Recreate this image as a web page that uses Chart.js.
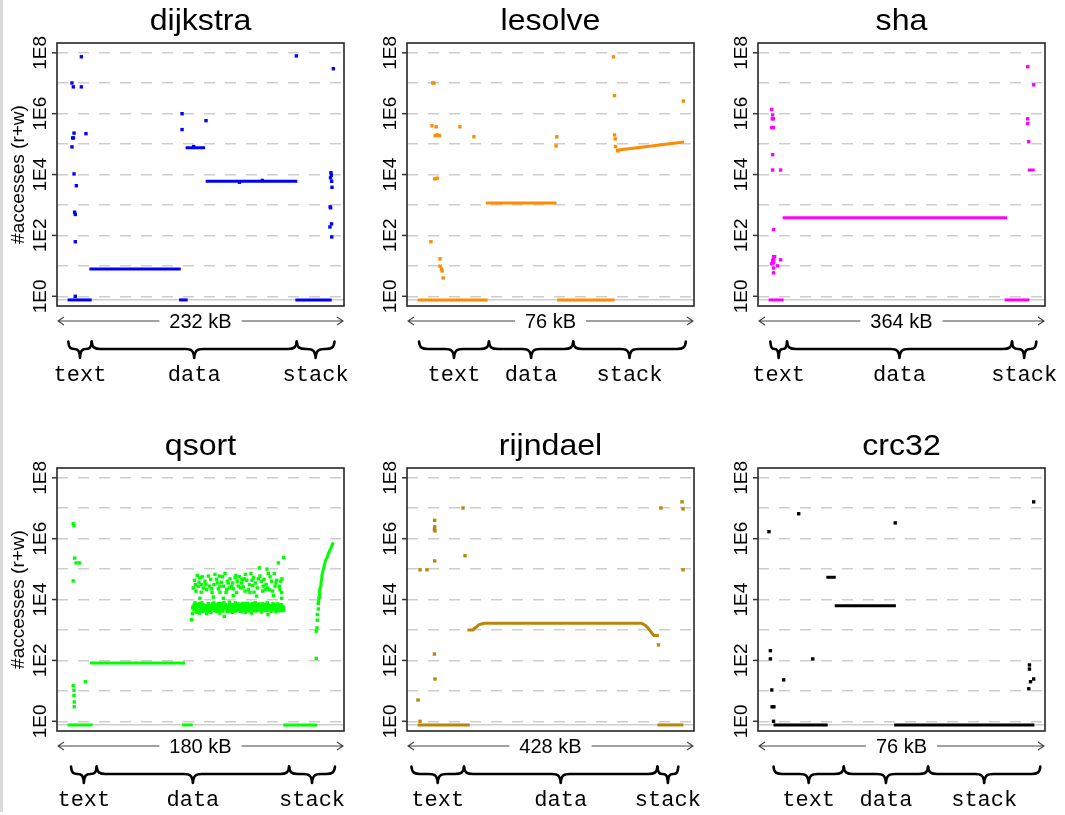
<!DOCTYPE html>
<html><head><meta charset="utf-8">
<script src="https://cdn.jsdelivr.net/npm/chart.js@4/dist/chart.umd.min.js"></script>
<style>
html,body{margin:0;padding:0;background:#fff;}
#wrap{position:relative;width:1065px;height:815px;overflow:hidden;background:#fff;}
#edge{position:absolute;left:0;top:0;width:3px;height:812px;background:#dadada;}
canvas{position:absolute;}
</style></head><body><div id="wrap"><div id="edge"></div></div>
<script>
// ---------- shared axis values ----------
const NOT_ACCESSED = 0.76;            // level where never-accessed words are drawn
const yAxisMin = 0.48, yAxisMax = 2.1e8;
const gridValues = [NOT_ACCESSED, 1, 10, 1e2, 1e3, 1e4, 1e5, 1e6, 1e7, 1e8];
const tickValues = [1, 1e2, 1e4, 1e6, 1e8];
const tickLabels = ['1E0', '1E2', '1E4', '1E6', '1E8'];
const regionNames = ['text', 'data', 'stack'];
const yTitle = '#accesses (r+w)';

// ---------- dijkstra ----------
const dijkstraSizeKB = 232;
const dijkstraRegions = [0.6, 21, 200, 233];
const dijkstraRuns = [[0, 21, NOT_ACCESSED], [97.3, 104.8, NOT_ACCESSED], [198.8, 230.5, NOT_ACCESSED],
  [19, 98.7, 7.9], [103, 120, 7.6e4], [120.5, 200.5, 6.0e3]];
const dijkstraLines = [];
const dijkstraPoints = [[6.7, 1], [3.8, 1.02e7], [5.0, 7.6e6], [12.0, 7.4e7], [12.0, 7.6e6], [5.6, 2.3e5],
  [4.4, 1.6e5], [5.0, 1.6e5], [16.0, 2.2e5], [3.8, 8.1e4], [5.6, 1.05e4], [7.6, 4.3e3], [6.1, 5.8e2],
  [6.7, 4.9e2], [6.7, 62], [99.9, 1e6], [99.9, 3.0e5], [120.8, 5.9e5], [199.7, 7.9e7], [232, 3.0e7],
  [229.9, 1.15e4], [230.2, 9.5e3], [229.5, 7.8e3], [230.5, 6.0e3], [230.8, 3.8e3], [229.2, 8.7e2],
  [229.6, 8.1e2], [230.4, 2.4e2], [229.0, 1.9e2], [230.6, 89], [110, 8.3e4], [150, 5.6e3], [170, 6.4e3]];

// ---------- lesolve ----------
const lesolveSizeKB = 76;
const lesolveRegions = [0.4, 20.4, 44.5, 76.7];
const lesolveRuns = [[0, 20, NOT_ACCESSED], [39.9, 56.3, NOT_ACCESSED], [19.5, 39.7, 1.17e3]];
const lesolveLines = [[[56.9, 6.3e4], [76.2, 1.17e5]]];
const lesolvePoints = [[4.3, 1.02e7], [4.7, 1.02e7], [4.1, 4.0e5], [5.3, 3.7e5], [5.0, 1.9e5], [5.6, 2.0e5],
  [6.2, 1.9e5], [4.9, 7.2e3], [5.6, 7.6e3], [3.8, 62], [6.4, 17], [6.4, 9.8], [6.8, 7.9], [7.0, 6.8],
  [7.3, 4.0], [12.1, 3.7e5], [16.1, 1.74e5], [39.8, 1.74e5], [39.6, 8.7e4], [56.0, 7.4e7], [56.3, 3.9e6],
  [76.0, 2.6e6], [56.6, 8.3e4], [56.5, 1.48e5], [56.3, 2.0e5], [57.2, 6.0e4]];

// ---------- sha ----------
const shaSizeKB = 364;
const shaRegions = [2.3, 25.2, 333.4, 366.7];
const shaRuns = [[0, 20.5, NOT_ACCESSED], [323.3, 357.2, NOT_ACCESSED], [19.2, 326.6, 380], [354.9, 364.5, 1.41e4]];
const shaLines = [];
const shaPoints = [[4.1, 1.38e6], [5.5, 9.1e5], [5.0, 6.8e5], [6.4, 6.8e5], [4.1, 3.5e5], [6.4, 3.5e5],
  [5.5, 4.5e4], [5.5, 1.41e4], [16.4, 1.41e4], [6.8, 155], [6.8, 20], [8.2, 20], [5.5, 15], [6.8, 16.6],
  [4.1, 11.7], [6.8, 12.6], [16.4, 15.8], [12.3, 10], [6.8, 8.5], [6.8, 5.9], [354.9, 3.5e7],
  [363.1, 8.9e6], [354.9, 6.8e5], [354.9, 4.7e5], [356.2, 1.2e5]];

// ---------- qsort ----------
const qsortSizeKB = 180;
const qsortRegions = [2.3, 19.7, 150, 181.1];
const qsortRuns = [[0, 17, NOT_ACCESSED], [77.5, 84.7, NOT_ACCESSED], [146.1, 169.1, NOT_ACCESSED], [15.2, 79.5, 83]];
const qsortLines = [[[169.8, 7.4e3], [170.3, 1.15e4], [170.5, 1.48e4], [170.8, 2.1e4], [171.4, 2.75e4],
  [171.6, 3.5e4], [172.1, 4.9e4], [172.3, 6.6e4], [173.2, 9.8e4], [173.9, 1.32e5], [174.5, 1.82e5],
  [175.5, 2.3e5], [176.4, 3.0e5], [177.3, 3.9e5], [178.4, 5.0e5], [179.6, 6.9e5], [180.0, 7.6e5]]];
const qsortTextPoints = [[3.8, 3.1e6], [4.3, 2.7e6], [4.8, 2.3e5], [5.7, 1.6e5], [7.9, 1.6e5], [3.8, 4.1e4],
  [3.8, 14.8], [4.3, 10.5], [4.3, 7.1], [4.5, 4.3], [4.5, 3.0], [12.0, 20]];
const qsortStackPoints = [[168.4, 117], [168.4, 9.1e2], [168.9, 1.17e3], [169.1, 2.1e3], [169.1, 3.2e3],
  [169.8, 4.9e3], [169.8, 7.4e3], [170.3, 1.15e4]];
const qsortHeapLow = [[84.0, 2.2e3], [84.5, 3.45e3], [85.1, 6.0e3], [85.6, 4.7e3], [86.3, 7.8e3], [86.9, 4.1e3],
  [87.4, 5.3e3], [88.1, 6.8e3], [88.7, 4.4e3], [89.2, 3.6e3], [89.6, 6.0e3], [90.3, 4.9e3], [91.0, 7.8e3],
  [91.5, 4.1e3], [92.1, 5.3e3], [92.8, 6.3e3], [93.5, 4.4e3], [94.2, 3.45e3], [94.6, 6.0e3], [95.3, 7.4e3],
  [96.0, 4.7e3], [96.4, 5.3e3], [97.1, 3.8e3], [97.8, 6.3e3], [98.5, 4.9e3], [99.1, 7.8e3], [99.6, 4.4e3],
  [100.3, 5.7e3], [100.9, 4.1e3], [101.6, 6.7e3], [102.3, 5.0e3], [103.0, 3.6e3], [103.4, 6.0e3],
  [104.1, 7.4e3], [104.8, 4.6e3], [105.5, 5.6e3], [106.1, 2.8e3], [106.8, 6.8e3], [107.5, 4.9e3],
  [108.2, 4.0e3], [108.8, 6.2e3], [109.5, 8.2e3], [110.2, 4.7e3], [110.9, 5.7e3], [111.5, 3.8e3],
  [112.2, 6.8e3], [112.9, 5.0e3], [113.6, 7.8e3], [114.3, 4.3e3], [114.9, 6.0e3], [115.6, 4.9e3],
  [116.3, 6.7e3], [117.0, 4.1e3], [117.6, 5.6e3], [118.3, 7.4e3], [119.0, 4.7e3], [119.7, 6.0e3],
  [120.4, 3.8e3], [121.0, 5.3e3], [121.7, 7.4e3], [122.4, 4.4e3], [123.1, 6.3e3], [123.7, 5.0e3],
  [124.4, 3.6e3], [125.1, 6.8e3], [125.8, 4.8e3], [126.5, 5.9e3], [127.1, 7.8e3], [127.8, 4.2e3],
  [128.5, 5.5e3], [129.2, 6.7e3], [129.8, 4.6e3], [130.5, 6.0e3], [131.2, 3.9e3], [131.9, 7.2e3],
  [132.5, 5.2e3], [133.2, 6.2e3], [133.9, 4.4e3], [134.6, 5.7e3], [135.3, 7.8e3], [135.7, 3.2e3],
  [136.4, 4.9e3], [137.1, 6.3e3], [137.7, 4.1e3], [138.4, 5.6e3], [139.1, 7.4e3], [139.8, 4.7e3],
  [140.5, 6.0e3], [141.1, 4.0e3], [141.8, 6.7e3], [142.5, 5.0e3], [143.2, 5.9e3], [143.8, 4.3e3],
  [144.5, 6.8e3], [145.2, 4.9e3], [145.9, 5.7e3], [146.3, 4.4e3],
  [84.7, 5.3e3], [85.8, 6.8e3], [86.7, 5.6e3], [87.6, 3.8e3], [88.3, 6.0e3], [89.4, 7.4e3], [90.1, 4.2e3],
  [90.8, 5.6e3], [91.7, 6.7e3], [92.6, 4.7e3], [93.3, 6.0e3], [93.9, 5.0e3], [95.1, 4.2e3], [95.7, 6.5e3],
  [96.6, 4.4e3], [97.5, 5.2e3], [98.2, 7.2e3], [98.9, 5.6e3], [100.0, 6.7e3], [100.7, 5.2e3],
  [101.4, 4.4e3], [102.1, 7.4e3], [102.7, 6.0e3], [103.9, 4.9e3], [104.5, 6.7e3], [105.2, 4.2e3],
  [105.9, 7.8e3], [106.6, 5.2e3], [107.9, 6.0e3], [108.6, 4.4e3], [109.3, 5.6e3], [110.0, 6.8e3],
  [110.6, 4.2e3], [111.3, 6.3e3], [112.0, 4.8e3], [112.7, 6.0e3], [113.4, 4.2e3], [114.0, 6.5e3],
  [114.7, 4.9e3], [115.4, 7.2e3], [116.1, 4.4e3], [116.7, 6.0e3], [117.4, 4.9e3], [118.1, 4.2e3],
  [118.8, 6.5e3], [119.5, 5.2e3], [120.1, 7.4e3], [120.8, 4.4e3], [121.5, 6.0e3], [122.2, 5.6e3],
  [122.8, 4.2e3], [123.5, 7.0e3], [124.2, 5.3e3], [124.9, 6.0e3], [125.5, 7.4e3], [126.2, 4.4e3],
  [126.9, 5.6e3], [127.6, 6.5e3], [128.3, 4.7e3], [128.9, 6.0e3], [129.6, 7.2e3], [130.3, 4.9e3],
  [131.0, 5.6e3], [131.6, 4.4e3], [132.3, 6.3e3], [133.0, 4.7e3], [133.7, 7.0e3], [134.4, 5.3e3],
  [135.0, 4.4e3], [136.2, 6.5e3], [136.8, 5.3e3], [137.5, 6.0e3], [138.2, 4.6e3], [138.9, 5.5e3],
  [139.5, 6.7e3], [140.2, 4.9e3], [140.9, 6.0e3], [141.6, 4.7e3], [142.3, 7.2e3], [142.9, 4.4e3],
  [143.6, 6.0e3], [144.3, 5.2e3], [145.0, 6.5e3], [145.6, 4.4e3], [146.1, 5.5e3]];
const qsortHeapHigh = [[87.8, 6.2e4], [91.2, 5.6e4], [95.3, 5.9e4], [99.8, 6.7e4], [102.7, 5.9e4], [106.6, 7.2e4],
  [110.0, 4.8e4], [113.4, 5.2e4], [116.3, 5.6e4], [120.4, 6.7e4], [124.2, 7.2e4], [125.8, 5.2e4],
  [129.8, 1.1e5], [130.3, 5.9e4], [135.0, 1.0e5], [135.9, 7.2e4], [140.0, 7.2e4], [142.7, 1.6e5],
  [146.3, 2.4e5], [86.0, 4.3e4], [89.0, 3.7e4], [93.0, 4.0e4], [96.9, 4.6e4], [100.9, 4.6e4], [104.1, 3.7e4],
  [108.2, 4.0e4], [111.8, 3.5e4], [114.9, 4.0e4], [117.9, 3.5e4], [121.3, 4.3e4], [127.1, 3.5e4],
  [131.2, 4.0e4], [134.4, 3.1e4], [138.2, 4.0e4], [141.6, 4.3e4], [144.3, 4.0e4], [85.1, 2.4e4],
  [88.5, 2.75e4], [91.9, 2.4e4], [96.0, 2.75e4], [99.1, 3.1e4], [102.1, 2.25e4], [105.5, 2.75e4],
  [109.5, 2.4e4], [112.2, 2.25e4], [115.6, 2.75e4], [119.0, 2.6e4], [122.4, 2.1e4], [125.3, 2.9e4],
  [128.5, 2.4e4], [132.5, 2.75e4], [136.6, 2.1e4], [140.5, 2.75e4], [143.8, 2.1e4], [86.9, 1.9e4],
  [90.5, 1.75e4], [94.2, 2.1e4], [97.8, 1.7e4], [103.2, 1.75e4], [107.3, 1.7e4], [114.5, 1.7e4],
  [120.1, 1.9e4], [126.2, 1.75e4], [132.1, 1.9e4], [138.9, 1.9e4], [145.0, 1.7e4], [98.7, 1.2e4],
  [112.2, 1.35e4], [128.0, 1.3e4], [139.3, 1.35e4], [89.6, 1.1e4], [105.5, 1.1e4], [145.0, 1.1e4],
  [89.6, 5.2e4], [93.7, 3.1e4], [97.5, 2.25e4], [101.4, 3.5e4], [105.0, 5.6e4], [108.8, 3.5e4],
  [111.1, 2.75e4], [114.0, 6.2e4], [117.2, 2.4e4], [119.5, 4.8e4], [123.1, 3.1e4], [124.9, 4.3e4],
  [129.2, 4.8e4], [133.0, 4.6e4], [137.1, 5.6e4], [141.1, 3.5e4], [143.4, 2.75e4], [145.2, 4.8e4],
  [90.8, 3.1e4], [107.7, 2.1e4], [123.5, 1.7e4], [135.3, 2.4e4], [86.5, 3.1e4], [103.2, 2.75e4],
  [118.1, 4.6e4], [133.7, 2.1e4]];
const qsortPoints = qsortTextPoints.concat(qsortStackPoints, qsortHeapLow, qsortHeapHigh);

// ---------- rijndael ----------
const rijndaelSizeKB = 428;
const rijndaelRegions = [-10, 74.7, 386.2, 419.9];
const rijndaelRuns = [[0, 84, NOT_ACCESSED], [386.2, 428, NOT_ACCESSED]];
const rijndaelLines = [[[80.2, 1.0e3], [89.2, 1.0e3], [90.8, 1.1e3], [94.7, 1.26e3], [98.4, 1.48e3], [102.7, 1.58e3],
  [108.1, 1.66e3], [360.4, 1.66e3], [363.1, 1.58e3], [367, 1.41e3], [370.2, 1.2e3], [374, 9.8e2],
  [377.7, 7.6e2], [380.4, 6.6e2], [388.5, 6.6e2]]];
const rijndaelPoints = [[3.9, 1], [0.6, 5.0], [3.9, 9.5e4], [15.1, 9.5e4], [27.5, 4.0e6], [27.5, 2.45e6],
  [27.0, 2.0e6], [28.0, 1.8e6], [27.5, 1.86e5], [27.0, 162], [28.0, 24.5], [73.1, 1.02e7], [76.3, 2.75e5],
  [387.9, 324], [392, 1.02e7], [425.8, 1.62e7], [427.5, 9.5e6], [427.5, 9.5e4]];

// ---------- crc32 ----------
const crc32SizeKB = 76;
const crc32Regions = [1.4, 21.5, 45.6, 77.7];
const crc32Runs = [[1.4, 16.9, NOT_ACCESSED], [35.9, 76.0, NOT_ACCESSED], [16.5, 19.2, 5.4e4], [18.9, 36.4, 6.3e3]];
const crc32Lines = [];
const crc32Points = [[0.1, 1.7e6], [8.6, 6.6e6], [36.2, 3.3e6], [75.8, 1.62e7], [0.5, 209], [0.5, 112],
  [12.6, 112], [4.3, 23], [0.9, 10.7], [1.0, 3.0], [1.5, 3.0], [1.4, 1.0], [74.6, 71], [74.6, 52],
  [75.8, 24.5], [74.9, 20], [74.4, 11.7]];

// ---------- panel list ----------
const panels = [
  {name: 'dijkstra', color: '#0000ff', size: dijkstraSizeKB, regions: dijkstraRegions, runs: dijkstraRuns, lines: dijkstraLines, points: dijkstraPoints, col: 0, row: 0},
  {name: 'lesolve', color: '#ff8c00', size: lesolveSizeKB, regions: lesolveRegions, runs: lesolveRuns, lines: lesolveLines, points: lesolvePoints, col: 1, row: 0},
  {name: 'sha', color: '#ff00ff', size: shaSizeKB, regions: shaRegions, runs: shaRuns, lines: shaLines, points: shaPoints, col: 2, row: 0},
  {name: 'qsort', color: '#00ff00', size: qsortSizeKB, regions: qsortRegions, runs: qsortRuns, lines: qsortLines, points: qsortPoints, col: 0, row: 1},
  {name: 'rijndael', color: '#b8860b', size: rijndaelSizeKB, regions: rijndaelRegions, runs: rijndaelRuns, lines: rijndaelLines, points: rijndaelPoints, col: 1, row: 1},
  {name: 'crc32', color: '#000000', size: crc32SizeKB, regions: crc32Regions, runs: crc32Runs, lines: crc32Lines, points: crc32Points, col: 2, row: 1}
];

const SANS = '"Liberation Sans", Arial, Helvetica, sans-serif';
const MONO = '"Liberation Mono", "Courier New", "DejaVu Sans Mono", monospace';
const canvasLeft = [0, 350, 700], canvasWidth = [360, 360, 365], padLeft = [57, 57, 58];
const rowTop = [0, 425], CH = 390, PLOT_W = 287, PAD_TOP = 43, PAD_BOTTOM = 84;

function drawBrace(ctx, xa, xb, y0) {
  const h = 7.5, t = 9, xm = (xa + xb) / 2;
  const r = Math.min(9, (xb - xa) / 4);
  ctx.beginPath();
  ctx.moveTo(xa, y0);
  ctx.bezierCurveTo(xa + 0.5, y0 + h * 0.85, xa + r * 0.35, y0 + h, xa + r, y0 + h);
  ctx.lineTo(xm - r, y0 + h);
  ctx.bezierCurveTo(xm - r * 0.35, y0 + h, xm - 0.5, y0 + h + t * 0.15, xm, y0 + h + t);
  ctx.bezierCurveTo(xm + 0.5, y0 + h + t * 0.15, xm + r * 0.35, y0 + h, xm + r, y0 + h);
  ctx.lineTo(xb - r, y0 + h);
  ctx.bezierCurveTo(xb - r * 0.35, y0 + h, xb - 0.5, y0 + h * 0.85, xb, y0);
  ctx.stroke();
}

function decor(p) {
  return {
    id: 'decor',
    afterDraw(chart) {
      const {ctx, chartArea: a, scales: {x, y}} = chart;
      ctx.save();
      // frame
      ctx.strokeStyle = '#262626'; ctx.lineWidth = 1.6;
      ctx.strokeRect(a.left, a.top, a.right - a.left, a.bottom - a.top);
      // y ticks and rotated labels
      ctx.fillStyle = '#000';
      ctx.font = '19px ' + SANS;
      ctx.textAlign = 'center'; ctx.textBaseline = 'middle';
      tickValues.forEach((v, i) => {
        const py = y.getPixelForValue(v);
        ctx.beginPath(); ctx.moveTo(a.left - 5, py); ctx.lineTo(a.left, py);
        ctx.strokeStyle = '#333'; ctx.lineWidth = 1.5; ctx.stroke();
        ctx.save(); ctx.translate(a.left - 17, py); ctx.rotate(-Math.PI / 2);
        ctx.fillText(tickLabels[i], 0, 1); ctx.restore();
      });
      // y title (left column only)
      if (p.col === 0) {
        ctx.save(); ctx.font = '19px ' + SANS;
        ctx.translate(19, (a.top + a.bottom) / 2); ctx.rotate(-Math.PI / 2);
        ctx.fillText(yTitle, 0, 0); ctx.restore();
      }
      // title
      const cx = (a.left + a.right) / 2;
      ctx.save(); ctx.font = '30px ' + SANS; ctx.textBaseline = 'alphabetic';
      ctx.translate(cx, 30); ctx.scale(1.07, 1); ctx.fillText(p.name, 0, 0); ctx.restore();
      // size arrow
      const ya = a.bottom + 15;
      const lab = p.size + ' kB';
      ctx.font = '20px ' + SANS;
      const tw = ctx.measureText(lab).width;
      ctx.fillText(lab, cx, ya + 1);
      ctx.strokeStyle = '#444'; ctx.lineWidth = 1.1;
      const xl = a.left + 1, xr = a.right - 1;
      ctx.beginPath();
      ctx.moveTo(xl, ya); ctx.lineTo(cx - tw / 2 - 10, ya);
      ctx.moveTo(cx + tw / 2 + 10, ya); ctx.lineTo(xr, ya);
      ctx.moveTo(xl + 6, ya - 4); ctx.lineTo(xl, ya); ctx.lineTo(xl + 6, ya + 4);
      ctx.moveTo(xr - 6, ya - 4); ctx.lineTo(xr, ya); ctx.lineTo(xr - 6, ya + 4);
      ctx.stroke();
      // region braces and names
      ctx.strokeStyle = '#000'; ctx.lineWidth = 2.6; ctx.lineCap = 'round'; ctx.lineJoin = 'round';
      ctx.font = '22px ' + MONO;
      for (let i = 0; i < 3; i++) {
        const xa = x.getPixelForValue(p.regions[i]);
        const xb = x.getPixelForValue(p.regions[i + 1]);
        drawBrace(ctx, xa, xb, a.bottom + 35.5);
        ctx.fillText(regionNames[i], (xa + xb) / 2, a.bottom + 69);
      }
      ctx.restore();
    }
  };
}

function datasetsFor(p) {
  const ds = [];
  p.runs.forEach(r => ds.push({
    data: [{x: r[0], y: r[2]}, {x: r[1], y: r[2]}], showLine: true, borderColor: p.color,
    borderWidth: 3, pointRadius: 0, borderCapStyle: 'butt', tension: 0
  }));
  p.lines.forEach(l => ds.push({
    data: l.map(([x, y]) => ({x, y})), showLine: true, borderColor: p.color,
    borderWidth: 3, pointRadius: 0, borderCapStyle: 'butt', borderJoinStyle: 'round', tension: 0
  }));
  ds.push({
    data: p.points.map(([x, y]) => ({x, y})), showLine: false, pointStyle: 'rect',
    pointRadius: 2.4, pointBorderWidth: 0, backgroundColor: p.color, borderColor: p.color
  });
  return ds;
}

const wrap = document.getElementById('wrap');
panels.forEach(p => {
  const cv = document.createElement('canvas');
  const w = canvasWidth[p.col];
  cv.width = w; cv.height = CH;
  cv.style.left = canvasLeft[p.col] + 'px'; cv.style.top = rowTop[p.row] + 'px';
  cv.style.width = w + 'px'; cv.style.height = CH + 'px';
  wrap.appendChild(cv);
  const pl = padLeft[p.col];
  new Chart(cv, {
    type: 'scatter',
    data: {datasets: datasetsFor(p)},
    options: {
      responsive: false, animation: false, devicePixelRatio: 1,
      layout: {padding: {left: pl, right: w - pl - PLOT_W, top: PAD_TOP, bottom: PAD_BOTTOM}},
      plugins: {legend: {display: false}, tooltip: {enabled: false}, title: {display: false}},
      scales: {
        x: {type: 'linear', display: false, min: -0.04 * p.size, max: 1.04 * p.size},
        y: {
          type: 'logarithmic', display: true, min: yAxisMin, max: yAxisMax, bounds: 'data',
          afterBuildTicks: s => { s.ticks = gridValues.map(v => ({value: v})); },
          ticks: {display: false},
          grid: {drawTicks: false, color: '#cdcdcd', lineWidth: 1.5},
          border: {display: false, dash: c => (c.tick && c.tick.value < 1) ? [] : [11, 10]}
        }
      }
    },
    plugins: [decor(p)]
  });
});
</script></body></html>
